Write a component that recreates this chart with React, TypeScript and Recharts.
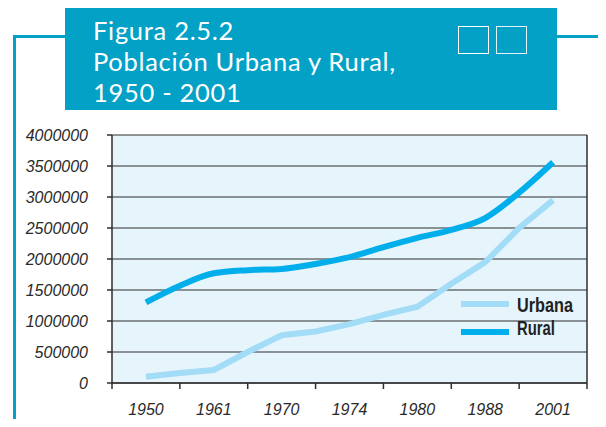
import {
  LineChart, Line, XAxis, YAxis, CartesianGrid, ReferenceLine, Legend
} from 'recharts';

const TEAL = '#04a1c7';
const RURAL_COLOR = '#00aeec';
const URBAN_COLOR = '#a2dcf7';

// census years shown under the axis
const YEARS = ['1950', '1961', '1970', '1974', '1980', '1988', '2001'];
// readings are taken every half interval between the labelled years
const SAMPLE_POS = [0, 0.5, 1, 1.5, 2, 2.5, 3, 3.5, 4, 4.5, 5, 5.5, 6];
const URBANA = [100000, 160000, 210000, 500000, 770000, 830000, 950000, 1100000, 1230000, 1600000, 1950000, 2500000, 2950000];
const RURAL = [1300000, 1570000, 1770000, 1820000, 1840000, 1920000, 2030000, 2190000, 2340000, 2470000, 2660000, 3070000, 3560000];
const Y_TICKS = [0, 500000, 1000000, 1500000, 2000000, 2500000, 3000000, 3500000, 4000000];
const BAND_EDGES = [-0.5, 0.5, 1.5, 2.5, 3.5, 4.5, 5.5, 6.5];

const data = SAMPLE_POS.map((pos, i) => ({ pos, urbana: URBANA[i], rural: RURAL[i] }));

const tickFont = { fill: '#2a2a2a', fontSize: 16, fontStyle: 'italic', fontFamily: 'Liberation Sans, sans-serif' };

const LegendBox = () => (
  <svg width={130} height={50} style={{ display: 'block' }}>
    <line x1={0} y1={11} x2={48} y2={11} stroke={URBAN_COLOR} strokeWidth={6} />
    <line x1={0} y1={39} x2={48} y2={39} stroke={RURAL_COLOR} strokeWidth={6} />
    <text x={56} y={19} fill="#222" fontSize={20} fontWeight="bold" textLength={56} lengthAdjust="spacingAndGlyphs"
      fontFamily="Liberation Sans, sans-serif">Urbana</text>
    <text x={56} y={42} fill="#222" fontSize={20} fontWeight="bold" textLength={38} lengthAdjust="spacingAndGlyphs"
      fontFamily="Liberation Sans, sans-serif">Rural</text>
  </svg>
);

export default function App() {
  return (
    <div style={{ position: 'relative', width: 606, height: 427, margin: -8, background: '#fff', overflow: 'hidden' }}>
      <div style={{ position: 'absolute', left: 0, top: 0 }}>
        <LineChart width={606} height={427} data={data}
          margin={{ top: 135, right: 19, bottom: 0, left: 0 }}>
          <CartesianGrid vertical={false} fill="#e6f5fc" stroke="#2e2e2e" strokeWidth={1.2} />
          <XAxis xAxisId="grid" dataKey="pos" type="number" domain={[-0.5, 6.5]} ticks={BAND_EDGES}
            height={10} tickSize={6} tickFormatter={() => ''} stroke="#2e2e2e" strokeWidth={1.5} />
          <XAxis xAxisId="lab" dataKey="pos" type="number" domain={[-0.5, 6.5]} ticks={[0, 1, 2, 3, 4, 5, 6]}
            height={34} axisLine={false} tickLine={false} tickMargin={5}
            tickFormatter={(v: number) => YEARS[v]} tick={tickFont} />
          <YAxis domain={[0, 4000000]} ticks={Y_TICKS} width={112} tickSize={5} tickMargin={19}
            interval={0} tick={tickFont} stroke="#2e2e2e" strokeWidth={1.5} />
          <ReferenceLine xAxisId="grid" x={6.5} stroke="#2e2e2e" strokeWidth={1.5} />
          <Line xAxisId="lab" type="linear" dataKey="urbana" name="Urbana" stroke={URBAN_COLOR}
            strokeWidth={6} dot={false} isAnimationActive={false} />
          <Line xAxisId="lab" type="monotone" dataKey="rural" name="Rural" stroke={RURAL_COLOR}
            strokeWidth={6} dot={false} isAnimationActive={false} />
          <Legend content={<LegendBox />} layout="vertical" align="center" verticalAlign="middle"
            wrapperStyle={{ left: 461, top: 293, width: 130 }} />
        </LineChart>
      </div>

      {/* frame lines */}
      <div style={{ position: 'absolute', left: 13, top: 35, width: 52, height: 2.5, background: TEAL }} />
      <div style={{ position: 'absolute', left: 557, top: 35, width: 49, height: 2.5, background: TEAL }} />
      <div style={{ position: 'absolute', left: 13, top: 35, width: 2.5, height: 392, background: TEAL }} />

      {/* title box */}
      <div style={{ position: 'absolute', left: 65, top: 7, width: 492, height: 103, background: TEAL }}>
        <div style={{
          position: 'absolute', left: 28, top: 8, color: '#fff', fontFamily: 'Lato, sans-serif',
          fontSize: 25.5, fontWeight: 400, lineHeight: '31px', letterSpacing: 0.7
        }}>
          <div>Figura 2.5.2</div>
          <div>Población Urbana y Rural,</div>
          <div>1950 - 2001</div>
        </div>
        <div style={{ position: 'absolute', left: 393, top: 19, width: 29, height: 26, border: '1.5px solid #fff' }} />
        <div style={{ position: 'absolute', left: 431, top: 19, width: 29, height: 26, border: '1.5px solid #dff3f9' }} />
      </div>
    </div>
  );
}
